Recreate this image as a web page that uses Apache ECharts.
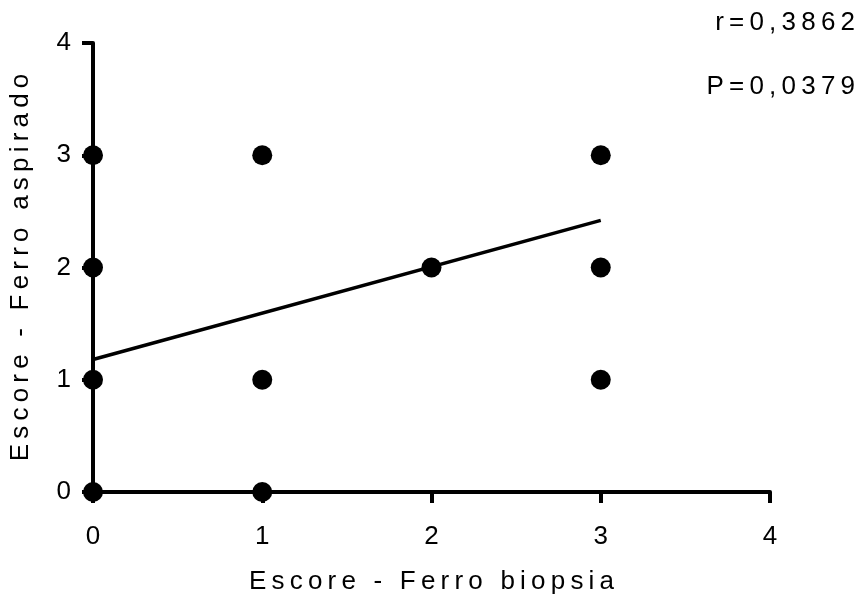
<!DOCTYPE html>
<html>
<head>
<meta charset="utf-8">
<script src="https://cdn.jsdelivr.net/npm/echarts@6/dist/echarts.min.js"></script>
<style>
html,body{margin:0;padding:0;background:#fff;}
#c{width:864px;height:600px;}
</style>
</head>
<body>
<div id="c"></div>
<script>
// Data
const pointsX = [0, 0, 0, 0, 1, 1, 1, 2, 3, 3, 3];
const pointsY = [0, 1, 2, 3, 0, 1, 3, 2, 1, 2, 3];
const regX = [0, 3];
const regY = [1.18, 2.42];
const xTicks = [0, 1, 2, 3, 4];
const yTicks = [0, 1, 2, 3, 4];
const xTitle = 'Escore - Ferro biopsia';
const yTitle = 'Escore - Ferro aspirado';
const statR = 'r=0,3862';
const statP = 'P=0,0379';

// letter-spaced text (thin spaces between characters)
function spaced(s) {
  return s.split('').join('\u2009');
}

const FONT = '"Liberation Sans", Arial, sans-serif';
const FS = 26;
const chart = echarts.init(document.getElementById('c'), null, {renderer: 'canvas'});
const axisCommon = {
  type: 'value', min: 0, max: 4, interval: 1,
  axisLine: {show: true, onZero: false, lineStyle: {color: '#000', width: 4}},
  axisTick: {show: true, length: 11, lineStyle: {color: '#000', width: 4}},
  splitLine: {show: false},
  nameTextStyle: {color: '#000', fontSize: FS, fontFamily: FONT},
  nameLocation: 'middle'
};
chart.setOption({
  animation: false,
  backgroundColor: '#fff',
  grid: {left: 93, top: 43, right: 94, bottom: 107, containLabel: false},
  xAxis: Object.assign({}, axisCommon, {
    name: spaced(xTitle), nameGap: 77,
    axisLabel: {color: '#000', fontSize: FS, fontFamily: FONT, margin: 32,
      formatter: v => xTicks.includes(v) ? String(v) : ''}
  }),
  yAxis: Object.assign({}, axisCommon, {
    name: spaced(yTitle), nameGap: 59,
    axisLabel: {color: '#000', fontSize: FS, fontFamily: FONT, margin: 22,
      formatter: v => yTicks.includes(v) ? String(v) : ''}
  }),
  graphic: [
    {type: 'text', right: 9, top: 10, style: {text: spaced(statR), fill: '#000', font: FS + 'px ' + FONT}},
    {type: 'text', right: 9, top: 74, style: {text: spaced(statP), fill: '#000', font: FS + 'px ' + FONT}}
  ],
  series: [
    {
      type: 'line', data: regX.map((x, i) => [x, regY[i]]), symbol: 'none',
      lineStyle: {color: '#000', width: 3.5}, z: 2, silent: true
    },
    {
      type: 'scatter', data: pointsX.map((x, i) => [x, pointsY[i]]), symbol: 'circle', symbolSize: 20,
      itemStyle: {color: '#000', opacity: 1}, clip: false, z: 3
    }
  ]
});
</script>
</body>
</html>
